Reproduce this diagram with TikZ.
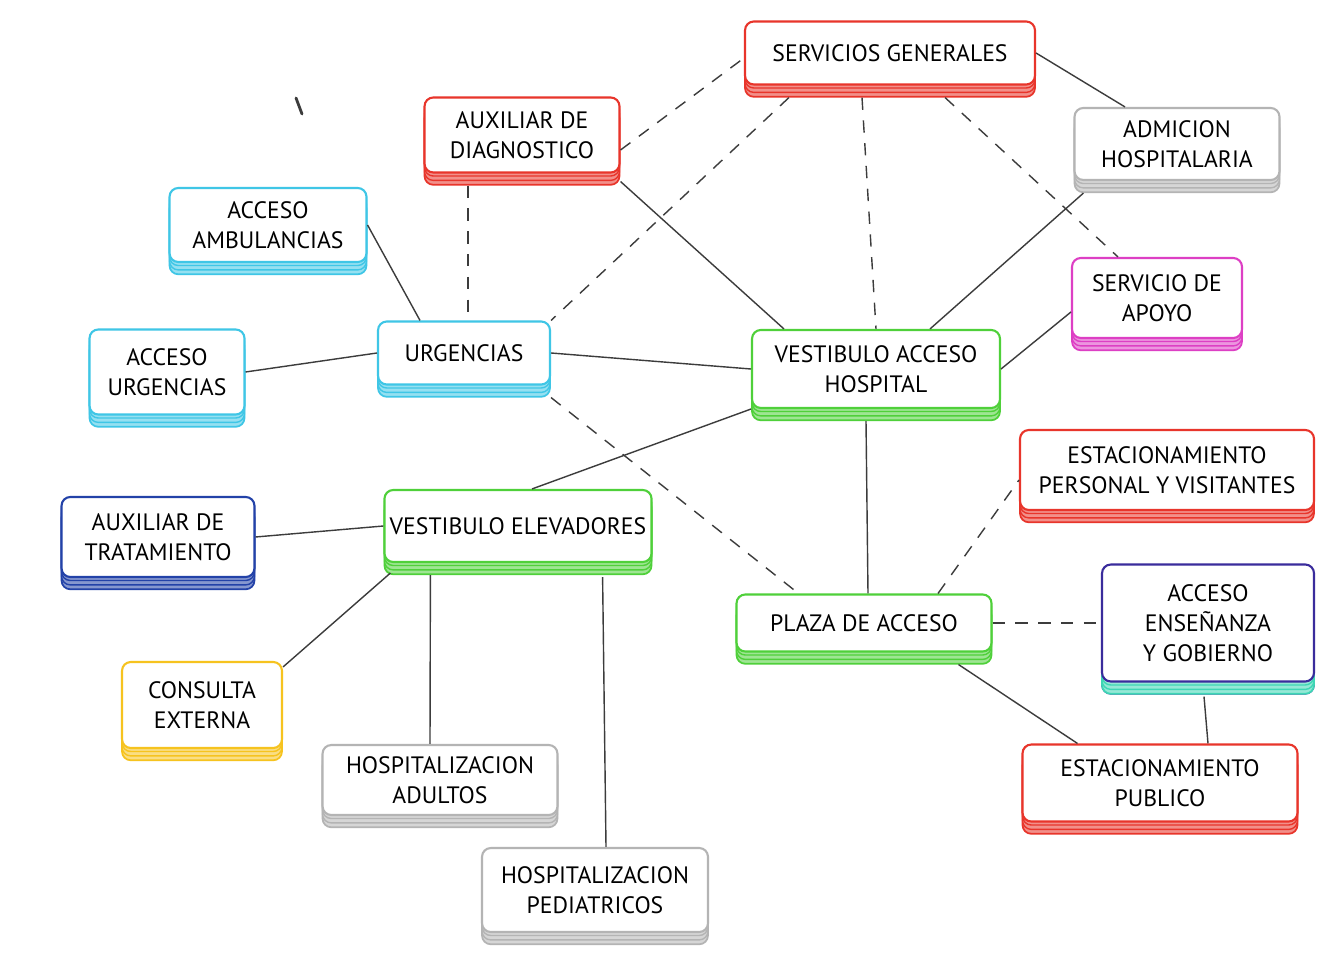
\documentclass[tikz,border=0pt]{standalone}
\usepackage{fontspec}
\setmainfont{PT Sans}
\usetikzlibrary{calc,shadows}
\definecolor{cR}{HTML}{E8352B}
\definecolor{cC}{HTML}{3FC6E6}
\definecolor{cG}{HTML}{4FD03A}
\definecolor{cY}{HTML}{F6C31F}
\definecolor{cM}{HTML}{DD3FC4}
\definecolor{cB}{HTML}{2342A8}
\definecolor{cP}{HTML}{3A2C9C}
\definecolor{cT}{HTML}{3ED6B5}
\definecolor{cS}{HTML}{B4B4B4}
\definecolor{cL}{HTML}{3C3C3C}
\tikzset{
  band/.style={
    general shadow={shadow xshift=0pt,shadow yshift=-7pt,draw=#1,fill=#1!55,line width=1pt},
    general shadow={shadow xshift=0pt,shadow yshift=-4.5pt,draw=#1,fill=#1!55,line width=.8pt},
    general shadow={shadow xshift=0pt,shadow yshift=-2pt,draw=#1,fill=#1!55,line width=.8pt}},
  box/.style={rounded corners=5pt,draw=#1,line width=1.2pt,fill=white,
              align=center,inner sep=3pt,font=\fontsize{13.5}{17}\selectfont,band=#1},
  wh/.style 2 args={minimum width=#1cm,minimum height=#2cm},
  link/.style={draw=cL,line width=.8pt},
  dlink/.style={link,dash pattern=on 7pt off 6pt},
}
\begin{document}
\begin{tikzpicture}[x=0.02cm,y=-0.02cm]
  \useasboundingbox[fill=white] (0,0) rectangle (1318,962);
  \node[box=cR,wh={5.8}{1.26}] (sg) at (890,53) {SERVICIOS GENERALES};
  \node[box=cR,wh={3.9}{1.5}] (dia) at (522,135) {AUXILIAR DE\\DIAGNOSTICO};
  \node[box=cS,wh={4.1}{1.44}] (adm) at (1177,144) {ADMICION\\HOSPITALARIA};
  \node[box=cC,wh={3.94}{1.48}] (amb) at (268,225) {ACCESO\\AMBULANCIAS};
  \node[box=cM,wh={3.4}{1.6}] (apo) at (1157,298) {SERVICIO DE\\APOYO};
  \node[box=cC,wh={3.1}{1.7}] (au) at (167,372) {ACCESO\\URGENCIAS};
  \node[box=cC,wh={3.44}{1.26}] (urg) at (464,353) {URGENCIAS};
  \node[box=cG,wh={4.96}{1.56}] (vah) at (876,369) {VESTIBULO ACCESO\\HOSPITAL};
  \node[box=cR,wh={5.88}{1.6}] (es) at (1167,470) {ESTACIONAMIENTO\\PERSONAL Y VISITANTES};
  \node[box=cB,wh={3.86}{1.6}] (at) at (158,537) {AUXILIAR DE\\TRATAMIENTO};
  \node[box=cG,wh={5.34}{1.44}] (ve) at (518,526) {VESTIBULO ELEVADORES};
  \node[box=cG,wh={5.1}{1.14}] (pl) at (864,623) {PLAZA DE ACCESO};
  \node[box=cP,band=cT,wh={4.24}{2.34}] (en) at (1208,623) {ACCESO\\ENSEÑANZA\\Y GOBIERNO};
  \node[box=cY,wh={3.2}{1.72}] (ce) at (202,705) {CONSULTA\\EXTERNA};
  \node[box=cS,wh={4.7}{1.4}] (ha) at (440,780) {HOSPITALIZACION\\ADULTOS};
  \node[box=cR,wh={5.5}{1.54}] (ep) at (1160,783) {ESTACIONAMIENTO\\PUBLICO};
  \node[box=cS,wh={4.52}{1.68}] (hp) at (595,890) {HOSPITALIZACION\\PEDIATRICOS};

  \draw[link] (amb.east) -- ($(urg.north)+(-44,0)$);
  \draw[link] (au.east) -- (urg.west);
  \draw[link] (urg.east) -- (vah.west);
  \draw[link] ($(dia.south east)+(0,8)$) -- ($(vah.north west)+(33,0)$);
  \draw[link] (sg.east) -- ($(adm.north)+(-52,0)$);
  \draw[link] ($(adm.south west)+(10,12)$) -- ($(vah.north)+(54,0)$);
  \draw[link] ($(apo.west)+(0,14)$) -- (vah.east);
  \draw[link] (vah.south west) -- ($(ve.north)+(14,0)$);
  \draw[link] ($(vah.south)+(-10,12)$) -- ($(pl.north)+(4,0)$);
  \draw[link] (at.east) -- (ve.west);
  \draw[link] ($(ve.south west)+(7,10)$) -- ($(ce.north east)+(0,6)$);
  \draw[link] ($(ve.south west)+(47,12)$) -- ($(ha.north)+(-10,0)$);
  \draw[link] ($(ve.south east)+(-50,14)$) -- ($(hp.north)+(11,0)$);
  \draw[link] ($(pl.south east)+(-34,12)$) -- ($(ep.north west)+(56,0)$);
  \draw[link] ($(en.south)+(-4,14)$) -- ($(ep.north)+(48,0)$);

  \draw[dlink] ($(dia.east)+(0,15)$) -- ($(sg.west)+(0,5)$);
  \draw[dlink] ($(dia.south)+(-54,12)$) -- ($(urg.north)+(4,0)$);
  \draw[dlink] ($(sg.south west)+(45,12)$) -- (urg.north east);
  \draw[dlink] ($(sg.south)+(-28,12)$) -- (vah.north);
  \draw[dlink] ($(sg.south)+(55,12)$) -- ($(apo.north)+(-39,0)$);
  \draw[dlink] ($(urg.south east)+(0,12)$) -- ($(pl.north west)+(63,0)$);
  \draw[dlink] ($(pl.north)+(74,0)$) -- ($(es.west)+(0,10)$);
  \draw[dlink] (pl.east) -- (en.west);

  \draw[line width=1.6pt,cL,line cap=round] (296,98) -- (302,114);
\end{tikzpicture}
\end{document}
